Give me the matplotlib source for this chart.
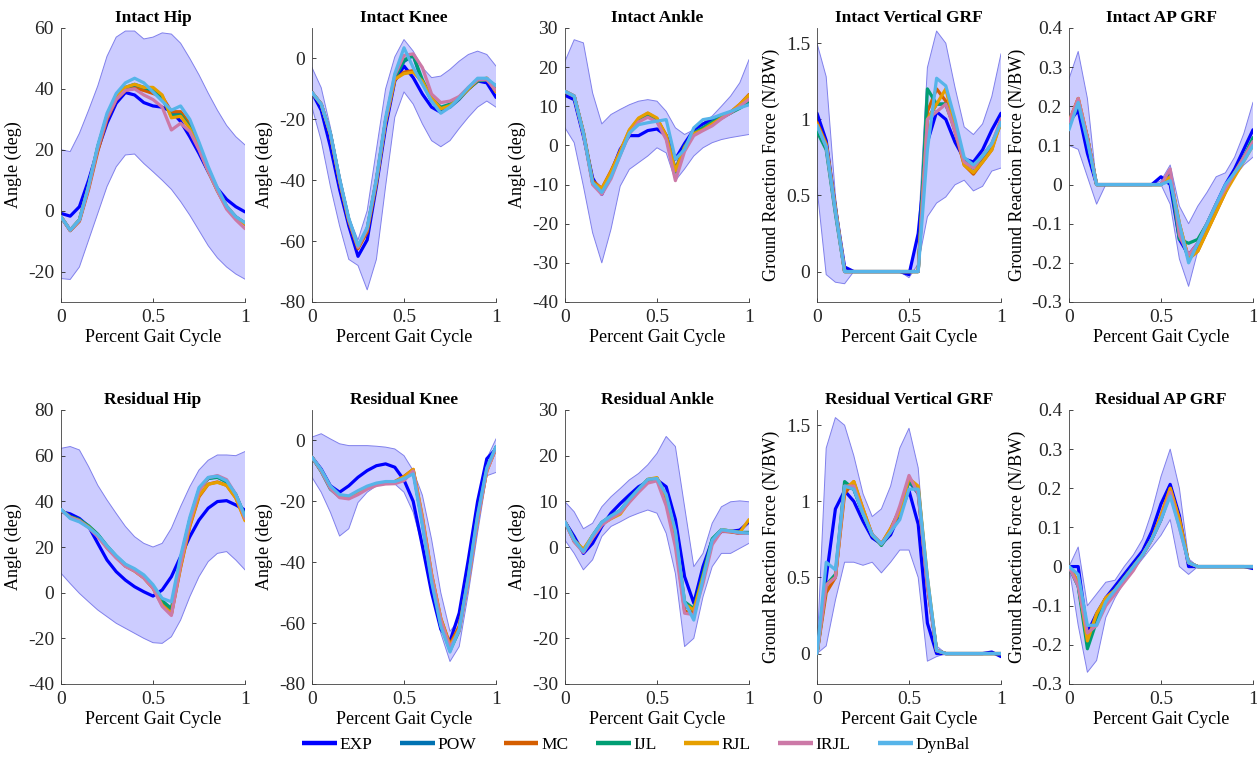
import numpy as np
import matplotlib
matplotlib.use("Agg")
import matplotlib.pyplot as plt
from matplotlib.lines import Line2D

# percent gait cycle sample points (shared by every panel)
pct = [0, 0.05, 0.1, 0.15, 0.2, 0.25, 0.3, 0.35, 0.4, 0.45, 0.5,
       0.55, 0.6, 0.65, 0.7, 0.75, 0.8, 0.85, 0.9, 0.95, 1.0]

series_names = ['EXP', 'POW', 'MC', 'IJL', 'RJL', 'IRJL', 'DynBal']

# ---------------- Intact Hip ----------------
ihip_hi = [20, 19.4, 25.4, 33, 41, 50.7, 57, 59, 59, 56.4, 57, 58.4, 58, 55, 50, 44.6, 38.6, 33, 28, 24.3, 21.6]
ihip_lo = [-22.3, -22.6, -18.5, -9.7, -0.9, 7.9, 14.4, 18.3, 18.6, 15.5, 12.8, 10, 7, 3, -1.5, -6.5, -11.5, -15.5, -18.5, -20.8, -22.5]
ihip_exp = [-0.9, -1.8, 1.3, 10, 20, 28.7, 35.3, 38.8, 38, 35.5, 34.4, 34, 32.6, 29.3, 24.3, 18.8, 12.8, 7.3, 3.7, 1.3, -0.4]
ihip_pow = [-2, -6.4, -3.1, 7.9, 21, 31, 37, 40.2, 41, 40, 39, 37, 31.5, 32, 28, 21, 13.4, 6.8, 1.3, -2, -4.2]
ihip_mc = [-2, -6.6, -3.5, 7, 19.5, 30, 36.5, 39.5, 40.2, 39.5, 38.5, 37.5, 32.5, 32.5, 28.5, 21.5, 13.8, 7, 1.5, -2.2, -4.5]
ihip_ijl = [-2, -6.4, -3, 8, 21, 31, 37.2, 40.5, 41.5, 40.5, 39.5, 37, 31, 31.5, 27.5, 20.5, 13, 6.5, 1, -2.2, -4]
ihip_rjl = [-2, -6.4, -3, 8, 21, 31.2, 37.5, 40.5, 41.5, 40.5, 40.5, 38, 30.5, 31, 27, 20.5, 13, 6.5, 1, -2.3, -4.4]
ihip_irjl = [-2, -6.5, -3.2, 7.5, 20.5, 30.5, 36.5, 39.5, 40, 38, 36.5, 34, 26.5, 28.7, 26, 20, 13, 6.5, 0.5, -3, -5.9]
ihip_dyn = [-2, -6.4, -3, 8.2, 21.5, 32, 38.5, 42, 43.5, 42, 39, 36, 33, 34.4, 30, 22.5, 14.5, 7.5, 1.5, -2, -4]

# ---------------- Intact Knee ----------------
iknee_hi = [-3, -9.6, -22.6, -37.8, -52, -59.6, -50, -30, -10, 0.5, 6.2, 2.4, -3, -6.3, -5.8, -3.6, -0.9, 1.3, 2.4, 1.3, -2.5]
iknee_lo = [-16, -27, -42, -55, -66, -68, -76, -66, -42, -19.3, -11, -15, -21.5, -27, -29, -27, -23, -19.3, -16, -14, -16]
iknee_exp = [-11.2, -17, -29, -43, -55, -65, -59.6, -42, -22.6, -7.4, -2.5, -6.3, -11.7, -16, -17.7, -15.5, -12.8, -10, -7.4, -8, -12.8]
iknee_pow = [-11.2, -15, -24.8, -40, -53, -62, -56, -40, -20.4, -6.3, -1, 1, -8, -14, -17, -16, -13.4, -10, -7.4, -6.8, -10]
iknee_mc = [-11.2, -15, -25, -40.5, -53.5, -62.5, -57, -41, -21, -7, -4.5, -4, -8, -13, -16.5, -15.5, -13, -10, -7.4, -6.5, -10.5]
iknee_ijl = [-11.2, -15, -24.8, -40, -53, -62, -56, -40, -20.4, -6.3, -0.5, 1, -7, -13, -16, -15, -13, -10, -7.4, -7, -9]
iknee_rjl = [-11.2, -15, -24.8, -40, -53, -62, -56, -40, -20.4, -6.8, -5, -4.5, -7.5, -13, -16.5, -15.5, -13, -10, -7, -6.5, -11]
iknee_irjl = [-11.2, -15, -24.8, -40, -53, -62, -56, -40, -20.4, -5.5, 1, 1.5, -3, -11.7, -14.5, -14, -12.5, -9.5, -7, -7, -10.5]
iknee_dyn = [-11.2, -15, -24.5, -39.5, -52.5, -61.5, -55.5, -39.5, -19.5, -5, 3.5, -3, -8.5, -14, -18, -16, -13, -9.5, -6.5, -6.5, -9]

# ---------------- Intact Ankle ----------------
iank_hi = [21.5, 27, 26.2, 13.4, 5.5, 7.9, 9.2, 10.4, 11.3, 11.7, 11.3, 8.7, 4.5, 2.8, 4, 5.8, 7.5, 10, 12.6, 16, 21.9]
iank_lo = [4.5, 0.7, -10.4, -22.3, -30, -21.4, -10.4, -6.1, -4.4, -2.7, -0.6, -1.9, -9, -6, -2.7, -0.6, 0.7, 1.5, 2, 2.4, 2.8]
iank_exp = [12.8, 11.7, 2.4, -8.3, -12.5, -7, -1, 2.5, 2.5, 3.8, 4.2, 2.5, -3.5, 0.5, 4, 5.5, 6.6, 7.5, 8.5, 10, 10.5]
iank_pow = [13.8, 12.6, 3.2, -9.5, -11.2, -7, -1.9, 3.6, 6.6, 7.9, 6.6, 2.4, -6.1, -0.2, 3.2, 4.5, 5.8, 7, 8.3, 10, 12.6]
iank_mc = [13.8, 12.6, 3.5, -9, -11, -6.5, -1.5, 3.8, 6.8, 8.2, 6.8, 2.6, -6.5, -0.5, 3, 4, 5.5, 7, 8.5, 10.5, 13]
iank_ijl = [13.8, 12.6, 3.2, -9.5, -11.5, -7.5, -2.2, 3.2, 6.2, 7.5, 6.2, 2, -6.8, -0.5, 3, 4.5, 6, 7.2, 8.3, 9.5, 11]
iank_rjl = [13.8, 12.6, 3.2, -9.5, -11, -6.8, -1.5, 4, 7, 8.3, 7, 2.4, -6.5, -0.5, 3, 4, 5.5, 7, 8.5, 10.5, 12.8]
iank_irjl = [13.8, 12.6, 3, -10, -12.5, -8.5, -2.5, 3, 6, 7.2, 6, 1.5, -9, -1.5, 2.5, 3.8, 5, 6.8, 8.3, 10, 11.8]
iank_dyn = [13.8, 12.6, 3.2, -9.5, -12, -8, -2.5, 3.2, 5.3, 5.8, 6.2, 6.6, -3.5, -1, 4.5, 6.6, 7, 7.9, 8.7, 9.6, 10.4]

# ---------------- Intact Vertical GRF ----------------
ivgrf_hi = [1.5, 1.28, 0.5, 0.0, 0, 0, 0, 0, 0, 0, 0, 0.25, 1.34, 1.58, 1.5, 1.21, 0.95, 0.9, 0.97, 1.15, 1.43]
ivgrf_lo = [0.55, -0.02, -0.07, -0.08, 0, 0, 0, 0, 0, 0, -0.04, 0.05, 0.36, 0.45, 0.49, 0.57, 0.6, 0.53, 0.56, 0.66, 0.68]
ivgrf_exp = [1.04, 0.86, 0.42, 0.03, 0, 0, 0, 0, 0, 0, -0.02, 0.25, 0.85, 1.05, 1.0, 0.85, 0.74, 0.72, 0.8, 0.93, 1.04]
ivgrf_pow = [0.95, 0.82, 0.4, 0, 0, 0, 0, 0, 0, 0, 0, 0, 1.0, 1.1, 1.1, 0.95, 0.72, 0.68, 0.74, 0.82, 0.98]
ivgrf_mc = [0.98, 0.84, 0.42, 0, 0, 0, 0, 0, 0, 0, 0, 0, 1.05, 1.2, 1.12, 0.92, 0.7, 0.64, 0.72, 0.8, 1.0]
ivgrf_ijl = [0.92, 0.8, 0.38, 0, 0, 0, 0, 0, 0, 0, 0, 0, 1.2, 1.1, 1.1, 0.93, 0.72, 0.68, 0.76, 0.84, 0.98]
ivgrf_rjl = [0.97, 0.83, 0.41, 0, 0, 0, 0, 0, 0, 0, 0, 0, 1.0, 1.1, 1.2, 0.95, 0.7, 0.65, 0.72, 0.8, 0.98]
ivgrf_irjl = [0.96, 0.82, 0.4, 0, 0, 0, 0, 0, 0, 0, 0, 0, 1.0, 1.05, 1.1, 0.92, 0.72, 0.68, 0.76, 0.84, 1.0]
ivgrf_dyn = [0.96, 0.82, 0.4, 0, 0, 0, 0, 0, 0, 0, 0, 0, 0.8, 1.27, 1.22, 1.0, 0.75, 0.7, 0.76, 0.84, 0.98]

# ---------------- Intact AP GRF ----------------
iap_hi = [0.27, 0.34, 0.22, 0.0, 0, 0, 0, 0, 0, 0, 0.01, 0.05, -0.055, -0.1, -0.055, -0.02, 0.02, 0.03, 0.07, 0.13, 0.21]
iap_lo = [0.1, 0.09, 0.02, -0.05, 0, 0, 0, 0, 0, 0, 0, -0.05, -0.19, -0.26, -0.17, -0.1, -0.05, -0.01, 0.02, 0.05, 0.07]
iap_exp = [0.16, 0.19, 0.08, 0.0, 0, 0, 0, 0, 0, 0, 0.02, 0.0, -0.14, -0.18, -0.15, -0.1, -0.05, 0.0, 0.04, 0.09, 0.14]
iap_pow = [0.15, 0.21, 0.12, 0, 0, 0, 0, 0, 0, 0, 0, 0.03, -0.12, -0.19, -0.16, -0.11, -0.06, -0.01, 0.03, 0.07, 0.1]
iap_mc = [0.16, 0.22, 0.12, 0, 0, 0, 0, 0, 0, 0, 0, 0.02, -0.1, -0.19, -0.17, -0.12, -0.07, -0.02, 0.03, 0.07, 0.11]
iap_ijl = [0.15, 0.21, 0.12, 0, 0, 0, 0, 0, 0, 0, 0, 0.02, -0.14, -0.15, -0.14, -0.1, -0.05, -0.01, 0.03, 0.07, 0.12]
iap_rjl = [0.16, 0.22, 0.12, 0, 0, 0, 0, 0, 0, 0, 0, 0.02, -0.1, -0.19, -0.17, -0.12, -0.07, -0.02, 0.02, 0.06, 0.1]
iap_irjl = [0.16, 0.22, 0.12, 0, 0, 0, 0, 0, 0, 0, 0, 0.04, -0.13, -0.18, -0.15, -0.1, -0.05, -0.01, 0.03, 0.07, 0.11]
iap_dyn = [0.14, 0.21, 0.11, 0, 0, 0, 0, 0, 0, 0, 0, 0.01, -0.1, -0.2, -0.15, -0.1, -0.05, 0.0, 0.03, 0.06, 0.1]

# ---------------- Residual Hip ----------------
rhip_hi = [63.2, 64, 62.5, 55.2, 47, 40.6, 34.7, 29, 24.5, 21.6, 20, 21.6, 28.2, 37.7, 46.4, 53.7, 58, 60.3, 60.3, 60, 61.8]
rhip_lo = [8.5, 4, -0.3, -4, -7.6, -10.5, -13.4, -15.6, -17.8, -20, -21.9, -22.2, -19.3, -12, -1.8, 7, 13.6, 17.2, 18, 14.3, 10]
rhip_exp = [35.5, 34.5, 32.5, 29, 21.6, 14.3, 9.2, 5.5, 2.6, 0.4, -1.5, 1.2, 7, 15.8, 24.5, 31.8, 37, 39.9, 40.3, 38.4, 36.2]
rhip_pow = [36.2, 33.3, 31.8, 29, 25.3, 20.1, 15.8, 12, 10, 7, 2.6, -4, -8, 14, 31.8, 45, 50, 50.8, 48.6, 42.8, 33.3]
rhip_mc = [36.2, 33, 31.5, 28.8, 25, 19.8, 15.5, 11.7, 9.5, 6.5, 2, -5, -9.5, 11, 29, 42, 47.5, 48.5, 47, 41.5, 32]
rhip_ijl = [36.2, 33.3, 32, 29.3, 25.6, 20.5, 16, 12.2, 10, 7, 2.8, -3.5, -7, 14.5, 32, 45, 50, 50.5, 48.5, 43, 33.5]
rhip_rjl = [36.2, 33, 31.5, 28.8, 25, 19.8, 15.5, 11.7, 9.5, 6.5, 2, -5.5, -9, 11.5, 29.5, 42.5, 47.5, 48.3, 47, 41.5, 31.5]
rhip_irjl = [36.2, 33, 31.5, 28.5, 24.5, 19.5, 15.2, 11.5, 9.5, 6.5, 2, -6, -10, 12.5, 31, 44.5, 50.3, 51.3, 49.5, 43, 32.5]
rhip_dyn = [36.5, 32.5, 31, 28.5, 25.3, 20.5, 16.2, 12.5, 10.5, 7.8, 3.5, -2.5, -4, 16, 33, 46, 50.5, 51, 49, 43, 33.5]

# ---------------- Residual Knee ----------------
rknee_hi = [1.1, 2.2, 0.5, -1.1, -1.7, -1.7, -1.7, -1.9, -2.2, -2.8, -5, -9.9, -18, -32.5, -50, -62.7, -58.9, -41, -21.5, -6, 0.5]
rknee_lo = [-12.1, -17, -23.6, -31.4, -29, -20.4, -17, -14.9, -13.8, -14.3, -17, -23.6, -34.7, -47.9, -63.3, -72.6, -67.7, -50, -30.3, -11.6, -10.5]
rknee_exp = [-5.5, -9.4, -14.9, -17, -14.9, -12.1, -9.9, -8.3, -7.7, -8.8, -13, -20, -34.7, -50, -62, -66, -56.7, -39, -20, -6, -2.8]
rknee_pow = [-5.5, -9.9, -15.4, -18.2, -18.7, -17, -15.4, -14.3, -13.8, -13.8, -12.7, -10, -27, -45.6, -60, -68.5, -62, -45, -25, -9.4, -2.2]
rknee_mc = [-5.5, -9.9, -15.4, -18.5, -19, -17.3, -15.6, -14.5, -14, -13.5, -11.8, -9.5, -25.5, -44, -58.5, -67, -61, -45.5, -25.5, -10, -2.5]
rknee_ijl = [-5.5, -10.2, -16, -18.5, -18.7, -17, -15.4, -14.3, -13.8, -13.8, -12.7, -10, -27, -45.6, -60.5, -69, -62.5, -45, -25, -9.4, -2.2]
rknee_rjl = [-5.5, -9.9, -15.4, -18.2, -18.7, -17, -15.4, -14.3, -13.8, -13.5, -12, -9.5, -25, -44, -58.5, -67.5, -62, -46, -26, -10, -2.5]
rknee_irjl = [-5.5, -10, -15.8, -18.8, -19.2, -17.8, -16, -14.8, -14.3, -14.2, -13.2, -10, -26, -44.5, -59, -68, -62.5, -46, -26, -10, -2.5]
rknee_dyn = [-5.5, -9.6, -15, -17.8, -18.2, -16.5, -15, -14, -13.5, -13.5, -12.5, -11, -28, -46.5, -61, -69.5, -62, -44.5, -24.5, -9, -2]

# ---------------- Residual Ankle ----------------
rank_hi = [9.9, 7.7, 4, 5.2, 8.8, 11, 12.8, 14.7, 16.1, 18, 20.5, 24.2, 22, 8.8, -4.3, -1.4, 5.2, 8.8, 9.9, 10.1, 9.9]
rank_lo = [1.5, -1.4, -5, -2.8, 2.3, 4.5, 5.5, 6.6, 7.4, 8.1, 7.4, 3, -5.8, -21.8, -20, -10.9, -4.3, -1.4, -1.4, -0.3, 0.8]
rank_exp = [5.5, 2.3, -1.4, 0.8, 4.5, 7.4, 9.5, 11.4, 13.2, 14.3, 14.7, 13.2, 6, -6.5, -12.3, -4.3, 1.5, 3.4, 3.4, 3.7, 5.5]
rank_pow = [5.5, 1.5, -0.7, 2.3, 5.2, 6.6, 7.7, 10.3, 12.5, 14.7, 15, 10.3, 2.3, -13, -13.8, -6.5, 1.5, 3.7, 3.4, 3, 3]
rank_mc = [5.5, 1.2, -1, 2, 5, 6.3, 7.5, 10, 12.3, 14.7, 15, 10, 1.5, -14, -14.5, -7, 1, 3.5, 3.3, 3, 3]
rank_ijl = [5.5, 1.5, -1, 2.5, 5.4, 6.8, 8, 10.5, 12.7, 14.8, 15, 10.5, 2.5, -12, -13.5, -6, 1.8, 3.8, 3.5, 3.2, 3.2]
rank_rjl = [5.5, 1.5, -0.5, 2.5, 5, 6.2, 7.2, 10, 12.3, 14.8, 15.2, 11, 3, -12.5, -13.8, -6.5, 1, 3.8, 3.5, 3.2, 6]
rank_irjl = [5.5, 1.2, -1.2, 2, 4.8, 6.3, 7.5, 9.8, 12, 14, 14.5, 9, 0, -14.5, -14.8, -8, 0.5, 3.5, 3.4, 3, 3]
rank_dyn = [5.5, 1.5, -1, 2.5, 5.4, 6.8, 8, 10.5, 12.7, 14.8, 15, 11.5, 3.5, -12, -16, -7, 1.5, 3.8, 3.5, 3.2, 3]

# ---------------- Residual Vertical GRF ----------------
rvgrf_hi = [0.02, 1.35, 1.55, 1.5, 1.3, 1.05, 0.9, 0.95, 1.1, 1.35, 1.48, 1.22, 0.48, 0.05, 0, 0, 0, 0, 0, 0, 0]
rvgrf_lo = [0, 0.05, 0.35, 0.6, 0.6, 0.58, 0.6, 0.53, 0.6, 0.68, 0.68, 0.5, -0.05, -0.02, 0, 0, 0, 0, 0, 0, 0]
rvgrf_exp = [0, 0.5, 0.95, 1.07, 1.0, 0.87, 0.76, 0.72, 0.78, 0.92, 1.07, 0.85, 0.2, 0.0, 0, 0, 0, 0, 0, 0.01, -0.02]
rvgrf_pow = [0, 0.45, 0.5, 1.1, 1.08, 0.92, 0.78, 0.72, 0.8, 0.95, 1.13, 1.05, 0.45, 0.02, 0, 0, 0, 0, 0, 0, 0]
rvgrf_mc = [0, 0.4, 0.5, 1.05, 1.13, 0.95, 0.78, 0.72, 0.82, 0.95, 1.15, 1.07, 0.45, 0.02, 0, 0, 0, 0, 0, 0, 0]
rvgrf_ijl = [0, 0.45, 0.52, 1.13, 1.08, 0.92, 0.78, 0.71, 0.8, 0.95, 1.13, 1.08, 0.48, 0.02, 0, 0, 0, 0, 0, 0, 0]
rvgrf_rjl = [0, 0.45, 0.5, 1.08, 1.13, 0.95, 0.78, 0.72, 0.82, 0.93, 1.15, 1.1, 0.5, 0.02, 0, 0, 0, 0, 0, 0, 0]
rvgrf_irjl = [0, 0.45, 0.5, 1.1, 1.1, 0.92, 0.78, 0.72, 0.8, 0.97, 1.17, 1.05, 0.45, 0.02, 0, 0, 0, 0, 0, 0, 0]
rvgrf_dyn = [0, 0.6, 0.55, 1.1, 1.08, 0.92, 0.78, 0.72, 0.8, 0.88, 1.08, 1.08, 0.5, 0.02, 0, 0, 0, 0, 0, 0, 0]

# ---------------- Residual AP GRF ----------------
rap_hi = [0.0, 0.05, -0.1, -0.07, -0.04, -0.035, 0.0, 0.03, 0.07, 0.14, 0.23, 0.3, 0.2, 0.02, 0, 0, 0, 0, 0, 0, 0]
rap_lo = [0, -0.15, -0.27, -0.24, -0.13, -0.08, -0.04, -0.01, 0.02, 0.05, 0.08, 0.12, 0.0, -0.02, 0, 0, 0, 0, 0, 0, 0]
rap_exp = [0, 0.0, -0.17, -0.12, -0.08, -0.05, -0.02, 0.01, 0.04, 0.09, 0.16, 0.21, 0.13, 0.0, 0, 0, 0, 0, 0, 0, -0.005]
rap_pow = [0, -0.05, -0.18, -0.14, -0.09, -0.06, -0.03, 0.0, 0.03, 0.07, 0.12, 0.19, 0.11, 0.01, 0, 0, 0, 0, 0, 0, 0]
rap_mc = [0, -0.04, -0.19, -0.13, -0.08, -0.06, -0.03, 0.0, 0.03, 0.07, 0.13, 0.2, 0.12, 0.01, 0, 0, 0, 0, 0, 0, 0]
rap_ijl = [0, -0.05, -0.21, -0.14, -0.09, -0.06, -0.03, 0.0, 0.03, 0.07, 0.12, 0.19, 0.11, 0.01, 0, 0, 0, 0, 0, 0, 0]
rap_rjl = [0, -0.04, -0.19, -0.12, -0.08, -0.06, -0.03, 0.0, 0.03, 0.07, 0.13, 0.2, 0.12, 0.01, 0, 0, 0, 0, 0, 0, 0]
rap_irjl = [0, -0.05, -0.17, -0.15, -0.1, -0.07, -0.04, -0.01, 0.03, 0.07, 0.12, 0.19, 0.1, 0.01, 0, 0, 0, 0, 0, 0, 0]
rap_dyn = [0, -0.02, -0.15, -0.15, -0.09, -0.06, -0.03, 0.0, 0.03, 0.07, 0.12, 0.18, 0.1, 0.01, 0, 0, 0, 0, 0, 0, 0]

colors = ['#0000FF', '#0072B2', '#D55E00', '#009E73', '#E69F00', '#CC79A7', '#56B4E9']

ANG = 'Angle (deg)'
GRF = 'Ground Reaction Force (N/BW)'

# title, ylabel, ylim, yticks, band, series (EXP first)
panels = [
    ('Intact Hip', ANG, (-30, 60), [-20, 0, 20, 40, 60], ihip_lo, ihip_hi,
     [ihip_exp, ihip_pow, ihip_mc, ihip_ijl, ihip_rjl, ihip_irjl, ihip_dyn]),
    ('Intact Knee', ANG, (-80, 10), [-80, -60, -40, -20, 0], iknee_lo, iknee_hi,
     [iknee_exp, iknee_pow, iknee_mc, iknee_ijl, iknee_rjl, iknee_irjl, iknee_dyn]),
    ('Intact Ankle', ANG, (-40, 30), [-40, -30, -20, -10, 0, 10, 20, 30], iank_lo, iank_hi,
     [iank_exp, iank_pow, iank_mc, iank_ijl, iank_rjl, iank_irjl, iank_dyn]),
    ('Intact Vertical GRF', GRF, (-0.2, 1.6), [0, 0.5, 1, 1.5], ivgrf_lo, ivgrf_hi,
     [ivgrf_exp, ivgrf_pow, ivgrf_mc, ivgrf_ijl, ivgrf_rjl, ivgrf_irjl, ivgrf_dyn]),
    ('Intact AP GRF', GRF, (-0.3, 0.4), [-0.3, -0.2, -0.1, 0, 0.1, 0.2, 0.3, 0.4], iap_lo, iap_hi,
     [iap_exp, iap_pow, iap_mc, iap_ijl, iap_rjl, iap_irjl, iap_dyn]),
    ('Residual Hip', ANG, (-40, 80), [-40, -20, 0, 20, 40, 60, 80], rhip_lo, rhip_hi,
     [rhip_exp, rhip_pow, rhip_mc, rhip_ijl, rhip_rjl, rhip_irjl, rhip_dyn]),
    ('Residual Knee', ANG, (-80, 10), [-80, -60, -40, -20, 0], rknee_lo, rknee_hi,
     [rknee_exp, rknee_pow, rknee_mc, rknee_ijl, rknee_rjl, rknee_irjl, rknee_dyn]),
    ('Residual Ankle', ANG, (-30, 30), [-30, -20, -10, 0, 10, 20, 30], rank_lo, rank_hi,
     [rank_exp, rank_pow, rank_mc, rank_ijl, rank_rjl, rank_irjl, rank_dyn]),
    ('Residual Vertical GRF', GRF, (-0.2, 1.6), [0, 0.5, 1, 1.5], rvgrf_lo, rvgrf_hi,
     [rvgrf_exp, rvgrf_pow, rvgrf_mc, rvgrf_ijl, rvgrf_rjl, rvgrf_irjl, rvgrf_dyn]),
    ('Residual AP GRF', GRF, (-0.3, 0.4), [-0.3, -0.2, -0.1, 0, 0.1, 0.2, 0.3, 0.4], rap_lo, rap_hi,
     [rap_exp, rap_pow, rap_mc, rap_ijl, rap_rjl, rap_irjl, rap_dyn]),
]

plt.rcParams['font.family'] = ['Liberation Serif', 'DejaVu Serif']
plt.rcParams['axes.unicode_minus'] = False

W, H = 1257, 763
fig = plt.figure(figsize=(W / 100, H / 100), dpi=100)

col_left = [61, 312, 565, 817, 1069]
row_top = [28, 410]
ax_w, ax_h = 184, 274

for i, (title, ylab, ylim, yticks, lo, hi, series) in enumerate(panels):
    r, c = divmod(i, 5)
    ax = fig.add_axes([col_left[c] / W, 1 - (row_top[r] + ax_h) / H, ax_w / W, ax_h / H])

    # +/- band around experimental data
    ax.fill_between(pct, lo, hi, facecolor=(0.8, 0.8, 1.0), edgecolor='none', zorder=1)
    ax.plot(pct, hi, color=(0.5, 0.5, 0.92), lw=0.7, zorder=1.5)
    ax.plot(pct, lo, color=(0.5, 0.5, 0.92), lw=0.7, zorder=1.5)

    for k, ys in enumerate(series):
        ax.plot(pct, ys, color=colors[k], lw=2.3, zorder=2 + k,
                solid_joinstyle='round', solid_capstyle='round')

    ax.set_xlim(0, 1)
    ax.set_ylim(*ylim)
    ax.set_xticks([0, 0.5, 1])
    ax.set_xticklabels(['0', '0.5', '1'])
    ax.set_yticks(yticks)
    ax.set_yticklabels(['%g' % v for v in yticks])
    ax.tick_params(direction='in', length=3, width=0.6, colors='#262626',
                   labelsize=14, pad=5)
    for side in ['top', 'right']:
        ax.spines[side].set_visible(False)
    for side in ['left', 'bottom']:
        ax.spines[side].set_color('#404040')
        ax.spines[side].set_linewidth(0.6)

    ax.set_title(title, fontsize=12.5, fontweight='bold', pad=4)
    ax.set_xlabel('Percent Gait Cycle', fontsize=13, labelpad=2)
    ax.set_ylabel(ylab, fontsize=13, labelpad=4)

# legend proxies, flat ended like the reference
handles = [Line2D([], [], color=cl, lw=3.2, solid_capstyle='butt') for cl in colors]
fig.legend(handles, series_names, loc='center', bbox_to_anchor=(636 / W, 1 - 745 / H),
           ncol=7, frameon=False, fontsize=12.5, handlelength=2.0,
           columnspacing=1.6, handletextpad=0.15)

fig.savefig('out.png', dpi=100, facecolor='white')
